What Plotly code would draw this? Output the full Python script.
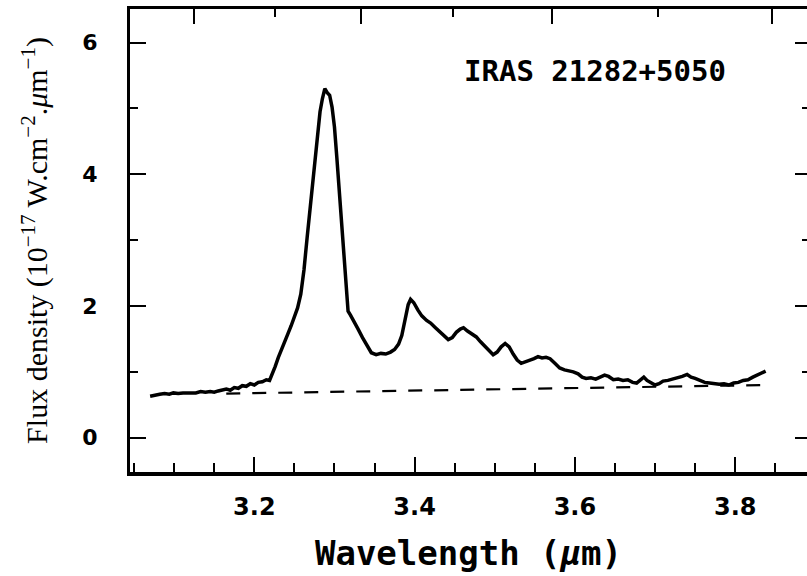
import plotly.graph_objects as go

# ---- data ----
wavelength = [
    3.070, 3.076, 3.082, 3.088, 3.094, 3.099, 3.105, 3.111, 3.117, 3.122,
    3.127, 3.133, 3.139, 3.145, 3.150, 3.155, 3.160, 3.165, 3.170, 3.175,
    3.180, 3.185, 3.190, 3.195, 3.200, 3.205, 3.210, 3.215, 3.219, 3.222,
    3.226, 3.230, 3.234, 3.238, 3.242, 3.246, 3.250, 3.254, 3.258, 3.262,
    3.266, 3.270, 3.274, 3.278, 3.282, 3.285, 3.288, 3.291, 3.294, 3.297,
    3.300, 3.303, 3.306, 3.309, 3.312, 3.315, 3.317, 3.320, 3.324, 3.329,
    3.335, 3.340, 3.346, 3.352, 3.358, 3.364, 3.370, 3.375, 3.380, 3.384,
    3.388, 3.392, 3.395, 3.399, 3.404, 3.409, 3.415, 3.420, 3.426, 3.432,
    3.437, 3.442, 3.447, 3.452, 3.457, 3.461, 3.466, 3.471, 3.477, 3.482,
    3.488, 3.493, 3.498, 3.503, 3.508, 3.513, 3.518, 3.523, 3.528, 3.533,
    3.538, 3.544, 3.549, 3.554, 3.559, 3.564, 3.569, 3.575, 3.581, 3.587,
    3.593, 3.598, 3.604, 3.609, 3.614, 3.620, 3.626, 3.631, 3.637, 3.642,
    3.648, 3.654, 3.660, 3.666, 3.672, 3.677, 3.682, 3.686, 3.690, 3.695,
    3.700, 3.705, 3.710, 3.716, 3.722, 3.728, 3.734, 3.740, 3.745, 3.750,
    3.756, 3.762, 3.768, 3.774, 3.780, 3.786, 3.792, 3.798, 3.804, 3.810,
    3.816, 3.822, 3.828, 3.834, 3.838,
]
flux = [
    0.63, 0.65, 0.66, 0.67, 0.66, 0.68, 0.67, 0.68, 0.68, 0.69,
    0.68, 0.70, 0.69, 0.70, 0.69, 0.71, 0.72, 0.74, 0.72, 0.76,
    0.75, 0.79, 0.78, 0.82, 0.80, 0.84, 0.85, 0.88, 0.87, 0.95,
    1.08, 1.22, 1.35, 1.47, 1.58, 1.70, 1.82, 1.97, 2.18, 2.55,
    3.05, 3.50, 4.05, 4.45, 4.95, 5.15, 5.30, 5.24, 5.20, 5.02,
    4.72, 4.25, 3.75, 3.25, 2.75, 2.15, 1.92, 1.86, 1.76, 1.66,
    1.52, 1.41, 1.29, 1.26, 1.28, 1.27, 1.30, 1.34, 1.42, 1.55,
    1.78, 2.02, 2.10, 2.05, 1.94, 1.85, 1.78, 1.74, 1.67, 1.60,
    1.54, 1.49, 1.52, 1.60, 1.65, 1.67, 1.62, 1.58, 1.53, 1.46,
    1.38, 1.31, 1.26, 1.30, 1.38, 1.43, 1.38, 1.27, 1.18, 1.13,
    1.15, 1.17, 1.20, 1.23, 1.21, 1.22, 1.20, 1.13, 1.06, 1.03,
    1.02, 1.00, 0.97, 0.92, 0.90, 0.91, 0.89, 0.92, 0.95, 0.93,
    0.88, 0.89, 0.87, 0.88, 0.84, 0.83, 0.88, 0.92, 0.87, 0.83,
    0.80, 0.82, 0.86, 0.87, 0.89, 0.90, 0.93, 0.96, 0.92, 0.90,
    0.87, 0.84, 0.83, 0.82, 0.81, 0.82, 0.80, 0.83, 0.84, 0.87,
    0.88, 0.92, 0.95, 0.99, 1.01,
]
continuum_wavelength = [3.165, 3.840]
continuum_flux = [0.67, 0.80]

x_ticks = [3.2, 3.4, 3.6, 3.8]
x_minor_step = 0.05
y_ticks = [0, 2, 4, 6]
y_minor_step = 1
wavenumber_major = [3200, 3000, 2800, 2600]   # cm^-1, top axis
wavenumber_minor = [3100, 2900, 2700]
source_label = "IRAS 21282+5050"

x_range = [3.0449, 3.8896]
y_range = [-0.521, 6.51]

# ---- figure ----
fig = go.Figure()
fig.add_trace(go.Scatter(
    x=continuum_wavelength, y=continuum_flux, mode="lines",
    line=dict(color="black", width=2.2, dash="14px,12px"),
    hoverinfo="skip", showlegend=False))
fig.add_trace(go.Scatter(
    x=wavelength, y=flux, mode="lines",
    line=dict(color="black", width=3.5),
    showlegend=False))
# invisible trace so the mirrored (top / right) axes are drawn
fig.add_trace(go.Scatter(
    x=wavelength[:1], y=flux[:1], xaxis="x2", yaxis="y2", mode="markers",
    marker=dict(opacity=0), hoverinfo="skip", showlegend=False))

tick_font_y = dict(family="DejaVu Sans", size=22, color="black", weight="bold")
tick_font_x = dict(family="DejaVu Sans", size=24, color="black", weight="bold")

fig.update_layout(
    width=807, height=576,
    margin=dict(l=130, r=0, t=9, b=104),
    paper_bgcolor="white", plot_bgcolor="white",
    showlegend=False,
    xaxis=dict(
        range=x_range, tickmode="array", tickvals=x_ticks, tickformat=".1f",
        ticks="inside", ticklen=15, tickwidth=2, tickcolor="black",
        minor=dict(dtick=x_minor_step, tick0=3.2, ticks="inside", ticklen=9,
                   tickwidth=2, tickcolor="black"),
        showline=True, linewidth=3.5, linecolor="black",
        showgrid=False, zeroline=False, automargin=False,
        tickfont=tick_font_x, ticklabelstandoff=10,
        title=dict(text="Wavelength (<i>μ</i>m)", standoff=23,
                   font=dict(family="DejaVu Sans Mono", size=34,
                             color="black", weight="bold")),
    ),
    xaxis2=dict(
        range=x_range, overlaying="x", side="top", anchor="y",
        tickmode="array", tickvals=[1e4 / v for v in wavenumber_major],
        ticks="inside", ticklen=15, tickwidth=2, tickcolor="black",
        minor=dict(tickmode="array",
                   tickvals=[1e4 / v for v in wavenumber_minor],
                   ticks="inside", ticklen=8, tickwidth=2, tickcolor="black"),
        showticklabels=False, showline=True, linewidth=2.5, linecolor="black",
        showgrid=False, zeroline=False, automargin=False,
    ),
    yaxis=dict(
        range=y_range, tickmode="array", tickvals=y_ticks,
        ticks="inside", ticklen=16, tickwidth=2, tickcolor="black",
        minor=dict(dtick=y_minor_step, tick0=0, ticks="inside", ticklen=8,
                   tickwidth=2, tickcolor="black"),
        showline=True, linewidth=3, linecolor="black",
        showgrid=False, zeroline=False, automargin=False,
        tickfont=tick_font_y, ticklabelstandoff=25,
        title=dict(
            text="Flux density (10<sup>−17</sup> W.cm<sup>−2</sup>.<i>μ</i>m<sup>−1</sup>)",
            standoff=26,
            font=dict(family="Liberation Serif", size=30, color="black")),
    ),
    yaxis2=dict(
        range=y_range, overlaying="y", side="right", anchor="x",
        tickmode="array", tickvals=y_ticks,
        ticks="inside", ticklen=12, tickwidth=2, tickcolor="black",
        minor=dict(dtick=y_minor_step, tick0=0, ticks="inside", ticklen=5,
                   tickwidth=2, tickcolor="black"),
        showticklabels=False, showline=False,
        showgrid=False, zeroline=False, automargin=False,
    ),
    annotations=[dict(
        text=source_label, x=3.625, y=5.57, xref="x", yref="y",
        showarrow=False, xanchor="center", yanchor="middle",
        font=dict(family="DejaVu Sans Mono", size=29, color="black",
                  weight="bold"))],
)

fig.write_html(
    "out.html",
    config={"displayModeBar": False},
    post_script="document.body.style.margin='0';"
                "document.body.style.overflow='hidden';",
)
